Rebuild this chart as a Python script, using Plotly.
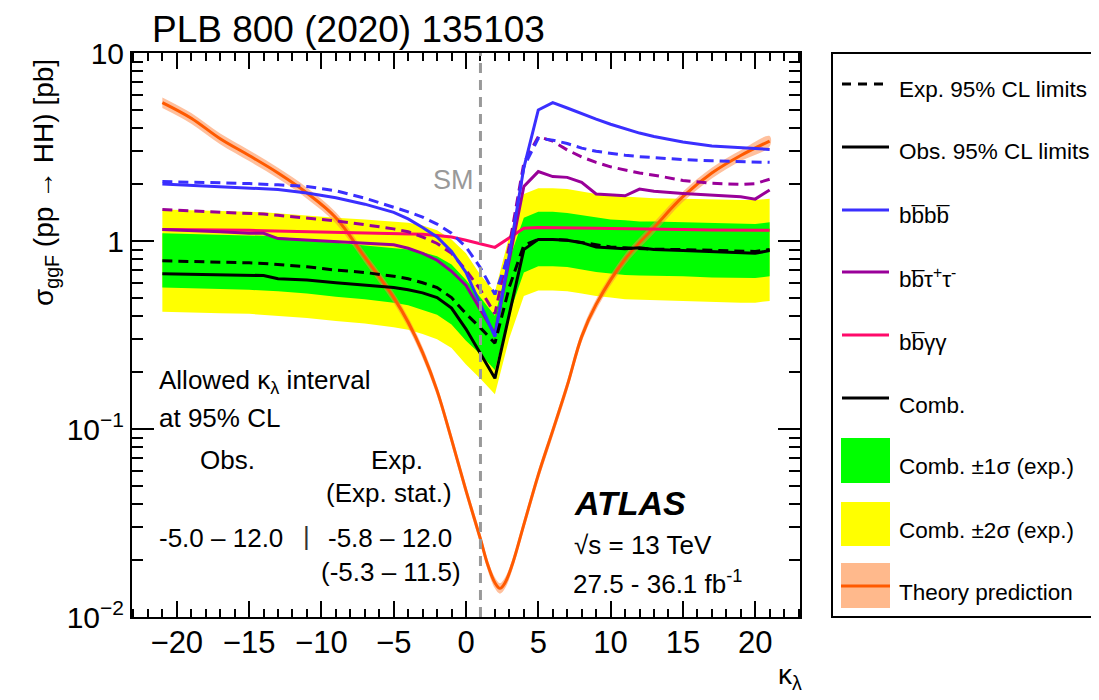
import plotly.graph_objects as go

# ---------------- data ----------------
kappa = [-21, -19, -17, -15, -14, -13, -11, -9, -7, -5,
         -4, -3, -2, -1, 0, 1, 2, 3, 4, 5,
         6, 7, 8, 9, 10, 11, 12, 13,
         15, 17, 19, 20, 21]

comb_obs = [0.67, 0.665, 0.66, 0.66, 0.655, 0.63, 0.62, 0.60, 0.58, 0.565,
            0.55, 0.53, 0.50, 0.44, 0.34, 0.25, 0.186, 0.41, 0.90, 1.02,
            1.02, 1.01, 0.98, 0.93, 0.92, 0.91, 0.92, 0.90,
            0.89, 0.88, 0.87, 0.86, 0.89]
comb_exp = [0.785, 0.78, 0.775, 0.765, 0.76, 0.75, 0.73, 0.70, 0.68, 0.65,
            0.63, 0.60, 0.565, 0.50, 0.41, 0.345, 0.286, 0.57, 0.95, 1.02,
            1.02, 1.01, 0.98, 0.95, 0.93, 0.92, 0.91, 0.905,
            0.90, 0.89, 0.88, 0.88, 0.90]
one_sig_up = [1.10, 1.09, 1.085, 1.07, 1.065, 1.05, 1.02, 0.98, 0.95, 0.92,
              0.90, 0.87, 0.83, 0.75, 0.62, 0.50, 0.40, 0.80, 1.33, 1.43,
              1.43, 1.41, 1.37, 1.33, 1.30, 1.29, 1.27, 1.27,
              1.26, 1.25, 1.23, 1.23, 1.26]
one_sig_dn = [0.565, 0.56, 0.555, 0.55, 0.547, 0.54, 0.525, 0.505, 0.49, 0.47,
              0.455, 0.43, 0.405, 0.36, 0.295, 0.25, 0.206, 0.41, 0.68, 0.735,
              0.735, 0.727, 0.705, 0.685, 0.67, 0.66, 0.655, 0.65,
              0.65, 0.64, 0.635, 0.635, 0.65]
two_sig_up = [1.47, 1.46, 1.45, 1.43, 1.42, 1.40, 1.37, 1.33, 1.30, 1.27,
              1.25, 1.21, 1.14, 1.02, 0.86, 0.66, 0.535, 1.07, 1.78, 1.91,
              1.91, 1.89, 1.83, 1.78, 1.74, 1.72, 1.70, 1.69,
              1.68, 1.66, 1.65, 1.65, 1.68]
two_sig_dn = [0.42, 0.417, 0.413, 0.41, 0.407, 0.40, 0.39, 0.375, 0.364, 0.348,
              0.337, 0.32, 0.30, 0.27, 0.22, 0.185, 0.153, 0.305, 0.51, 0.545,
              0.545, 0.54, 0.525, 0.51, 0.50, 0.49, 0.487, 0.484,
              0.48, 0.476, 0.47, 0.47, 0.48]
bbbb_obs = [2.01, 1.98, 1.95, 1.92, 1.90, 1.88, 1.80, 1.70, 1.57, 1.42,
            1.31, 1.18, 1.05, 0.88, 0.68, 0.46, 0.31, 0.85, 2.45, 4.98,
            5.44, 5.10, 4.75, 4.45, 4.18, 3.95, 3.75, 3.60,
            3.36, 3.20, 3.12, 3.09, 3.07]
bbbb_exp = [2.07, 2.06, 2.04, 2.02, 2.01, 1.99, 1.95, 1.85, 1.69, 1.52,
            1.43, 1.34, 1.23, 1.10, 0.93, 0.72, 0.52, 0.86, 2.48, 3.52,
            3.44, 3.30, 3.12, 3.00, 2.92, 2.86, 2.81, 2.77,
            2.71, 2.67, 2.64, 2.63, 2.62]
bbtautau_obs = [1.15, 1.14, 1.12, 1.10, 1.10, 1.03, 1.01, 0.99, 0.975, 0.955,
                0.915, 0.86, 0.79, 0.69, 0.58, 0.43, 0.32, 0.80, 1.95, 2.34,
                2.20, 2.18, 2.05, 1.78, 1.76, 1.74, 1.89, 1.84,
                1.79, 1.76, 1.72, 1.67, 1.87]
bbtautau_exp = [1.47, 1.45, 1.43, 1.41, 1.39, 1.37, 1.33, 1.28, 1.22, 1.16,
                1.12, 1.05, 0.97, 0.86, 0.70, 0.55, 0.41, 0.95, 2.60, 3.59,
                3.40, 3.05, 2.80, 2.62, 2.48, 2.38, 2.30, 2.24,
                2.10, 2.03, 2.00, 2.02, 2.13]
bbyy_obs = [1.15, 1.15, 1.14, 1.14, 1.135, 1.13, 1.125, 1.12, 1.11, 1.10,
            1.09, 1.085, 1.07, 1.05, 1.01, 0.97, 0.925, 1.04, 1.17, 1.18,
            1.18, 1.175, 1.17, 1.17, 1.165, 1.16, 1.155, 1.15,
            1.15, 1.145, 1.14, 1.14, 1.14]

kappa_theory = [-21, -19, -17, -15, -13, -11, -9, -7, -5, -4,
                -3, -2, -1, 0, 1, 1.5, 2, 2.35, 2.7, 3.2,
                4, 5, 6, 7, 8, 9, 11, 13, 15, 17,
                19, 21]
theory = [5.45, 4.5, 3.5, 2.85, 2.3, 1.8, 1.33, 0.82, 0.50, 0.37,
          0.255, 0.16, 0.088, 0.047, 0.026, 0.019, 0.0152, 0.0142, 0.0152, 0.019,
          0.031, 0.057, 0.098, 0.17, 0.31, 0.46, 0.80, 1.18, 1.72, 2.3,
          2.85, 3.4]
theory_up = [5.80, 4.79, 3.73, 3.04, 2.45, 1.92, 1.42, 0.873, 0.533, 0.394,
             0.272, 0.170, 0.0937, 0.050, 0.0277, 0.0202, 0.0162, 0.0151, 0.0162, 0.0202,
             0.033, 0.0607, 0.104, 0.181, 0.33, 0.49, 0.852, 1.26, 1.83, 2.45,
             3.04, 3.62]
theory_dn = [5.10, 4.21, 3.27, 2.66, 2.15, 1.68, 1.24, 0.767, 0.468, 0.346,
             0.238, 0.150, 0.0823, 0.044, 0.0243, 0.0178, 0.0142, 0.0133, 0.0142, 0.0178,
             0.029, 0.0533, 0.0916, 0.159, 0.29, 0.43, 0.748, 1.10, 1.61, 2.15,
             2.66, 3.18]

y_tickvals = [0.01, 0.1, 1, 10]
y_ticktext = ["10<sup>\u22122</sup>", "10<sup>\u22121</sup>", "1", "10"]

# ---------------- styling ----------------
FONT = "Liberation Sans, Arial, Helvetica, sans-serif"
BLUE = "#3a2fff"
PURPLE = "#990099"
PINK = "#ff0a6a"
GREEN = "#00ff00"
YELLOW = "#ffff00"
ORANGE = "#ff5a00"
ORANGE_BAND = "rgba(255,130,60,0.5)"
DASH = "10px,6px"

# page body has an 8px margin: figure is drawn 8px in from the window corner
OFF = 8
W, H = 1099 - OFF, 700 - OFF
L, T = 132 - OFF, 53 - OFF
PW, PH = 668, 564
R, B = W - L - PW, H - T - PH


def px(x):          # window pixel -> paper fraction
    return (x - 132) / PW


def py(y):
    return (617 - y) / PH


fig = go.Figure()


def band(xs, up, dn, color, shape="linear"):
    fig.add_trace(go.Scatter(
        x=list(xs) + list(xs)[::-1], y=list(up) + list(dn)[::-1],
        fill="toself", fillcolor=color, mode="lines",
        line=dict(width=0, color=color, shape=shape),
        hoverinfo="skip", showlegend=False))


band(kappa, two_sig_up, two_sig_dn, YELLOW)
band(kappa, one_sig_up, one_sig_dn, GREEN)
band(kappa_theory, theory_up, theory_dn, ORANGE_BAND, shape="spline")

fig.add_trace(go.Scatter(x=kappa_theory, y=theory, mode="lines",
                         line=dict(color=ORANGE, width=3, shape="spline"),
                         showlegend=False))


def line(y, color, dash=None, width=3):
    fig.add_trace(go.Scatter(x=kappa, y=y, mode="lines",
                             line=dict(color=color, width=width, dash=dash),
                             showlegend=False))


line(bbyy_obs, PINK)
line(bbtautau_exp, PURPLE, DASH)
line(bbtautau_obs, PURPLE)
line(bbbb_exp, BLUE, DASH)
line(bbbb_obs, BLUE)
line(comb_exp, "black", DASH)
line(comb_obs, "black")

shapes = []
# SM vertical line
shapes.append(dict(type="line", xref="x", yref="paper", x0=1, x1=1, y0=0, y1=1,
                   line=dict(color="#999999", width=3, dash="10px,7px"), layer="above"))
# legend box
shapes.append(dict(type="rect", xref="paper", yref="paper",
                   x0=px(832), x1=px(1112), y0=py(617), y1=py(53),
                   line=dict(color="black", width=2), fillcolor="rgba(0,0,0,0)"))

annotations = []


def txt(text, x, y, size=26, xanchor="left", color="black", **kw):
    annotations.append(dict(text=text, x=px(x), y=py(y), xref="paper", yref="paper",
                            xanchor=xanchor, yanchor="middle", showarrow=False,
                            font=dict(family=FONT, size=size, color=color), **kw))


LEG_SIZE = 22.5
# legend entries
leg_lines = [
    (84, "black", DASH, "Exp. 95% CL limits", 90),
    (147, "black", None, "Obs. 95% CL limits", 152),
    (210, BLUE, None, "bb\u0305bb\u0305", 215),
    (272, PURPLE, None, "bb\u0305\u03c4<sup>+</sup>\u03c4<sup>-</sup>", 278),
    (335, PINK, None, "bb\u0305\u03b3\u03b3", 342),
    (398, "black", None, "Comb.", 405),
]
for ly, col, dsh, label, ty in leg_lines:
    ld = dict(color=col, width=3)
    if dsh:
        ld["dash"] = "9px,7px"
    shapes.append(dict(type="line", xref="paper", yref="paper",
                       x0=px(842), x1=px(889), y0=py(ly), y1=py(ly), line=ld))
    txt(label, 897, ty, size=LEG_SIZE)

for (y0, y1, col, label, ty) in [(438, 483, GREEN, "Comb. \u00b11\u03c3 (exp.)", 466),
                                 (502, 546, YELLOW, "Comb. \u00b12\u03c3 (exp.)", 530),
                                 (563, 608, "#ffb98c", "Theory prediction", 592)]:
    shapes.append(dict(type="rect", xref="paper", yref="paper",
                       x0=px(841), x1=px(890), y0=py(y1), y1=py(y0),
                       fillcolor=col, line=dict(width=0)))
    txt(label, 897, ty, size=LEG_SIZE)
shapes.append(dict(type="line", xref="paper", yref="paper",
                   x0=px(841), x1=px(890), y0=py(586), y1=py(586),
                   line=dict(color=ORANGE, width=3)))

# texts
txt("PLB 800 (2020) 135103", 150, 30, size=37)
txt("SM", 453, 180, size=27, xanchor="center", color="#999999")
txt("Allowed \u03ba<sub>\u03bb</sub> interval", 157, 382)
txt("at 95% CL", 157, 418)
txt("Obs.", 227, 460, xanchor="center")
txt("Exp.", 397, 460, xanchor="center")
txt("(Exp. stat.)", 389, 493, xanchor="center")
txt("-5.0 \u2013 12.0", 157, 538)
txt("|", 306, 536, xanchor="center", color="#333333")
txt("-5.8 \u2013 12.0", 326, 538)
txt("(-5.3 \u2013 11.5)", 319, 572)
txt("<b><i>ATLAS</i></b>", 572, 503, size=34)
txt("\u221as = 13 TeV", 572, 545, size=26)
txt("27.5 - 36.1 fb<sup>-1</sup>", 571, 582, size=26)
txt("\u03ba<sub>\u03bb</sub>", 790, 676, size=28, xanchor="center")
annotations.append(dict(text="\u03c3<sub>ggF</sub> (pp \u2192 HH) [pb]", x=px(45), y=py(183),
                        xref="paper", yref="paper", xanchor="center", yanchor="middle",
                        textangle=-90, showarrow=False,
                        font=dict(family=FONT, size=28, color="black")))

y_minor = [m * 10 ** e for e in (-2, -1, 0) for m in range(2, 10)]

fig.update_layout(
    width=W, height=H, margin=dict(l=L, r=R, t=T, b=B, autoexpand=False),
    paper_bgcolor="white", plot_bgcolor="white",
    font=dict(family=FONT, color="black"),
    showlegend=False,
    shapes=shapes, annotations=annotations,
    xaxis=dict(range=[-23.1, 23.1], showline=True, linecolor="black", linewidth=2,
               mirror="allticks", ticks="inside", ticklen=16, tickwidth=1.5,
               tickcolor="black", tick0=0, dtick=5, showgrid=False, zeroline=False,
               tickfont=dict(size=31, family=FONT), ticklabelstandoff=-3,
               minor=dict(ticks="inside", dtick=1, ticklen=8, tickwidth=1.5,
                          tickcolor="black", showgrid=False)),
    yaxis=dict(type="log", range=[-2, 1], showline=True, linecolor="black", linewidth=2,
               mirror="allticks", ticks="inside", ticklen=22, tickwidth=1.5,
               tickcolor="black", tickmode="array", tickvals=y_tickvals,
               ticktext=y_ticktext, showgrid=False, zeroline=False,
               tickfont=dict(size=30, family=FONT),
               minor=dict(ticks="inside", tickmode="array", tickvals=y_minor,
                          ticklen=11, tickwidth=1.5, tickcolor="black",
                          showgrid=False)),
)

fig.write_html("out.html")
